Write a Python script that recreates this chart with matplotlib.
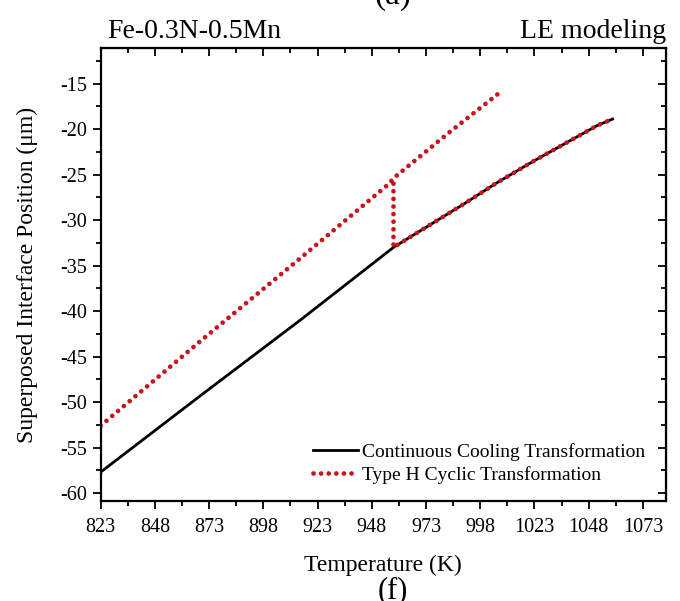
import numpy as np
import matplotlib
matplotlib.use("Agg")
import matplotlib.pyplot as plt

plt.rcParams['font.family'] = ['Liberation Serif', 'DejaVu Serif']
plt.rcParams['axes.unicode_minus'] = False

# continuous cooling transformation (black solid)
cct_T = [823, 869, 915, 958, 975, 990, 1005, 1022, 1040, 1052, 1059]
cct_pos = [-57.7, -49.3, -41.0, -33.0, -30.5, -28.3, -26.0, -23.6, -21.2, -19.6, -18.9]

# type H cyclic transformation (red dotted), nan splits the two branches
cyc_T = [823, 869, 915, 956, 958, 983, 1008, np.nan,
         958, 958, 975, 990, 1005, 1022, 1040, 1052, 1059]
cyc_pos = [-52.6, -43.3, -34.2, -26.0, -25.4, -20.5, -15.8, np.nan,
           -26.0, -33.0, -30.5, -28.3, -26.0, -23.6, -21.2, -19.6, -18.9]

xticks = [823, 848, 873, 898, 923, 948, 973, 998, 1023, 1048, 1073]
yticks = [-60, -55, -50, -45, -40, -35, -30, -25, -20, -15]

fig = plt.figure(figsize=(6.8, 6.01), dpi=100)
ax = fig.add_axes([0.148, 0.166, 0.831, 0.754])

ax.plot(cct_T, cct_pos, color='black', lw=2.0, label='Continuous Cooling Transformation')
ax.plot(cyc_T, cyc_pos, color='#c8141e', lw=3.4, linestyle=(0, (0.01, 1.6)),
        dash_capstyle='round', label='Type H Cyclic Transformation')

ax.set_xlim(823, 1083.5)
ax.set_ylim(-60.9, -11.1)
ax.set_xticks(xticks)
ax.set_yticks(yticks)
ax.set_xticks(np.arange(835.5, 1083, 25), minor=True)
ax.set_yticks(np.arange(-57.5, -11, 5), minor=True)
ax.tick_params(which='major', direction='out', length=6, width=1.3, labelsize=14.5)
ax.tick_params(axis='x', which='major', pad=6)
ax.tick_params(which='minor', direction='out', length=3.5, width=1.3)
for s in ax.spines.values():
    s.set_linewidth(1.6)

top = ax.secondary_xaxis('top')
top.set_xticks(xticks)
top.set_xticks(np.arange(835.5, 1083, 25), minor=True)
top.tick_params(which='major', direction='in', length=6, width=1.3, labeltop=False)
top.tick_params(which='minor', direction='in', length=3.5, width=1.3)
right = ax.secondary_yaxis('right')
right.set_yticks(yticks)
right.set_yticks(np.arange(-57.5, -11, 5), minor=True)
right.tick_params(which='major', direction='in', length=6, width=1.3, labelright=False)
right.tick_params(which='minor', direction='in', length=3.5, width=1.3)

ax.set_xlabel('Temperature (K)', fontsize=17, labelpad=13)
ax.set_ylabel('Superposed Interface Position (\u03bcm)', fontsize=17, labelpad=16)

ax.legend(loc='lower left', bbox_to_anchor=(0.345, 0.0), frameon=False, fontsize=14,
          handlelength=2.3, handletextpad=0.2, labelspacing=0.25)

fig.text(0.157, 0.948, 'Fe-0.3N-0.5Mn', fontsize=20, ha='left', va='center')
fig.text(0.979, 0.948, 'LE modeling', fontsize=20, ha='right', va='center')
fig.text(0.578, 1 - 4 / 601, '(a)', fontsize=24, ha='center', va='baseline')
fig.text(0.578, 3 / 601, '(f)', fontsize=22, ha='center', va='baseline')

fig.savefig('out.png', dpi=100)
